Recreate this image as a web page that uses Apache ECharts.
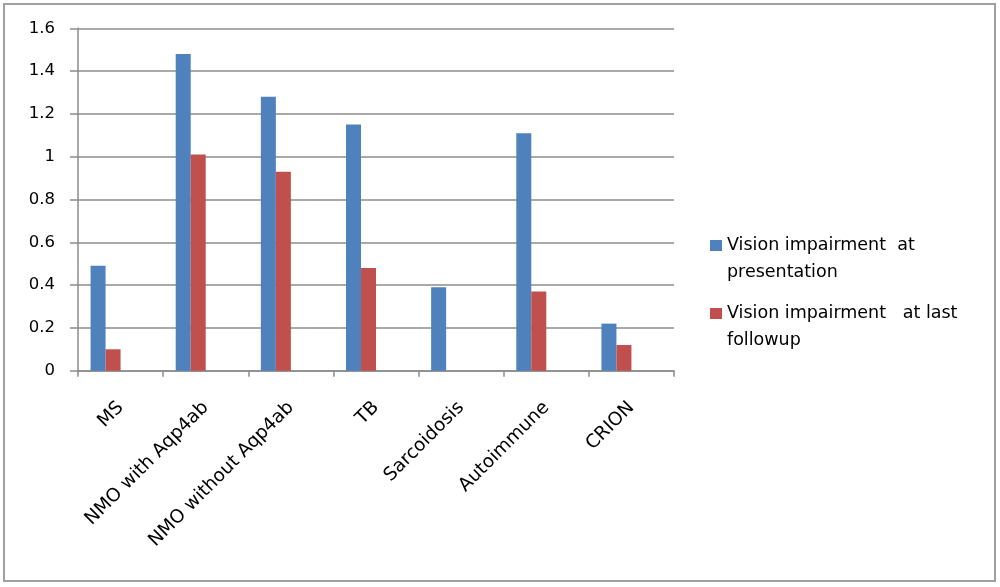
<!DOCTYPE html>
<html lang="en">

<head>
  <meta charset="UTF-8">
  <title>Vision impairment</title>
  <script src="https://cdn.jsdelivr.net/npm/echarts@6.0.0/dist/echarts.min.js"></script>
  <style>
    html,
    body {
      height: 100%;
      margin: 0;
      padding: 0;
      background-color: #ffffff;
    }

    #chart {
      width: 1000px;
      height: 587px;
    }
  </style>
</head>

<body>
  <div id="chart"></div>
  <script>
    const categories = ['MS', 'NMO with Aqp4ab', 'NMO without Aqp4ab', 'TB', 'Sarcoidosis', 'Autoimmune', 'CRION'];
    const atPresentation = [0.49, 1.48, 1.28, 1.15, 0.39, 1.11, 0.22];
    const atLastFollowup = [0.10, 1.01, 0.93, 0.48, 0, 0.37, 0.12];
    const seriesNames = ['Vision impairment  at presentation', 'Vision impairment   at last followup'];
    const legendLines = {
      'Vision impairment  at presentation': 'Vision impairment  at\npresentation',
      'Vision impairment   at last followup': 'Vision impairment   at last\nfollowup'
    };

    // square sits at the first text line, the tiny dots only stretch the box
    const legendIcon = 'path://M0,8h12v11h-12z M0,0h0.01v0.01h-0.01z M0,54h0.01v0.01h-0.01z';

    const chart = echarts.init(document.getElementById('chart'));
    const option = {
      animation: false,
      grid: {
        left: 78,
        right: 326,
        top: 28.3,
        bottom: 216.3,
        containLabel: false
      },
      legend: {
        orient: 'vertical',
        left: 710,
        top: 232,
        padding: 0,
        itemWidth: 12,
        itemHeight: 54,
        itemGap: 14,
        icon: legendIcon,
        itemStyle: { borderWidth: 0 },
        data: seriesNames,
        formatter: name => legendLines[name],
        textStyle: {
          fontFamily: 'DejaVu Sans',
          fontSize: 17.5,
          lineHeight: 27,
          color: '#000000'
        }
      },
      xAxis: {
        type: 'category',
        data: categories,
        axisLine: { lineStyle: { color: '#8c8c8c', width: 1.5 } },
        axisTick: { show: true, length: 6, lineStyle: { color: '#8c8c8c', width: 1.5 } },
        axisLabel: {
          rotate: 45,
          margin: 34,
          interval: 0,
          fontFamily: 'DejaVu Sans',
          fontSize: 18.5,
          color: '#000000'
        }
      },
      yAxis: {
        type: 'value',
        min: 0,
        max: 1.6,
        interval: 0.2,
        axisLine: { show: true, lineStyle: { color: '#8c8c8c', width: 1.5 } },
        axisTick: { show: true, inside: false, length: 8, lineStyle: { color: '#8c8c8c', width: 1.5 } },
        axisLabel: {
          margin: 23,
          fontFamily: 'DejaVu Sans',
          fontSize: 16.5,
          color: '#000000',
          formatter: v => String(Math.round(v * 10) / 10)
        },
        splitLine: { lineStyle: { color: '#8c8c8c', width: 1.5 } }
      },
      series: [
        {
          name: seriesNames[0],
          type: 'bar',
          data: atPresentation,
          barWidth: 15,
          barGap: '0%',
          itemStyle: { color: '#4f81bd' }
        },
        {
          name: seriesNames[1],
          type: 'bar',
          data: atLastFollowup,
          barWidth: 15,
          barGap: '0%',
          itemStyle: { color: '#c0504d' }
        },
        // two empty series from the source sheet keep the bar pair off-centre
        { name: 'empty1', type: 'bar', data: [], barWidth: 15, barGap: '0%' },
        { name: 'empty2', type: 'bar', data: [], barWidth: 15, barGap: '0%' }
      ],
      graphic: [{
        type: 'rect',
        shape: { x: 4, y: 4, width: 991, height: 577 },
        style: { fill: 'none', stroke: '#a0a0a0', lineWidth: 2 },
        silent: true
      }]
    };
    chart.setOption(option);
  </script>
</body>

</html>
